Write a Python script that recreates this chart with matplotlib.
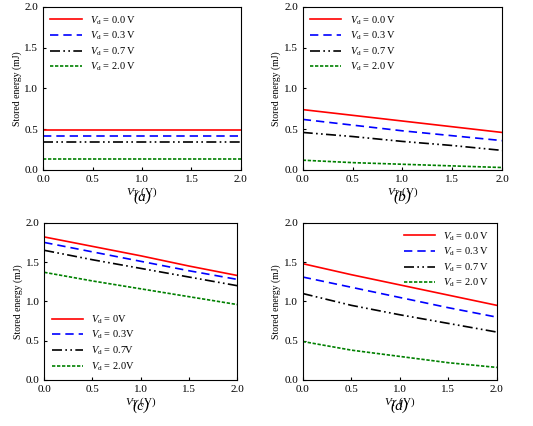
import matplotlib
matplotlib.use("Agg")
import matplotlib.pyplot as plt

plt.rcParams['font.family'] = ['Liberation Serif', 'DejaVu Serif']
plt.rcParams['mathtext.fontset'] = 'custom'
plt.rcParams['mathtext.rm'] = 'Liberation Serif'
plt.rcParams['mathtext.it'] = 'Liberation Serif:italic'

vt = [0.0, 0.5, 1.0, 1.5, 2.0]
a_red = [0.49] * 5; a_blue = [0.42] * 5; a_black = [0.34] * 5; a_green = [0.13] * 5
b_red = [0.74, 0.67, 0.60, 0.53, 0.46]
b_blue = [0.62, 0.55, 0.48, 0.42, 0.36]
b_black = [0.46, 0.41, 0.35, 0.30, 0.24]
b_green = [0.12, 0.09, 0.07, 0.05, 0.03]
c_red = [1.82, 1.70, 1.58, 1.45, 1.33]
c_blue = [1.75, 1.63, 1.51, 1.39, 1.28]
c_black = [1.65, 1.53, 1.42, 1.31, 1.20]
c_green = [1.37, 1.26, 1.16, 1.06, 0.96]
d_red = [1.48, 1.34, 1.21, 1.08, 0.95]
d_blue = [1.31, 1.18, 1.05, 0.92, 0.80]
d_black = [1.10, 0.95, 0.83, 0.72, 0.61]
d_green = [0.49, 0.38, 0.30, 0.22, 0.16]
labels_std = ['0.0 V', '0.3 V', '0.7 V', '2.0 V']
labels_c = ['0V', '0.3V', '0.7V', '2.0V']
captions = ['(a)', '(b)', '(c)', '(d)']

styles = [dict(color='red', ls='-'), dict(color='blue', ls=(0, (5, 3))),
          dict(color='black', ls=(0, (6, 2, 1, 2, 1, 2))), dict(color='green', ls=(0, (2, 1)))]

fig = plt.figure(figsize=(5.33, 4.26), dpi=100)
rects = [[0.081, 0.601, 0.371, 0.383], [0.568, 0.601, 0.374, 0.383],
         [0.083, 0.108, 0.362, 0.369], [0.568, 0.108, 0.364, 0.369]]
data = [[a_red, a_blue, a_black, a_green], [b_red, b_blue, b_black, b_green],
        [c_red, c_blue, c_black, c_green], [d_red, d_blue, d_black, d_green]]
legpos = ['upper left', 'upper left', 'lower left', 'upper right']
for i, (r, series) in enumerate(zip(rects, data)):
    ax = fig.add_axes(r)
    labs = labels_c if i == 2 else labels_std
    for s, st, lb in zip(series, styles, labs):
        ax.plot(vt, s, lw=1.2, label=r'$V_\mathrm{d}$ = ' + lb, **st)
    ax.set_xlim(0, 2); ax.set_ylim(0, 2)
    ax.set_xticks([0, 0.5, 1, 1.5, 2]); ax.set_yticks([0, 0.5, 1, 1.5, 2])
    ax.set_xticklabels(['0.0', '0.5', '1.0', '1.5', '2.0'])
    ax.set_yticklabels(['0.0', '0.5', '1.0', '1.5', '2.0'])
    ax.tick_params(labelsize=8, length=2.5, direction='in')
    ax.set_xlabel(r'$V_\mathrm{T}$ (V)', fontsize=8, labelpad=1)
    ax.set_ylabel('Stored energy (mJ)', fontsize=7, labelpad=2)
    ax.legend(loc=legpos[i], fontsize=7.5, frameon=False, handlelength=3,
              labelspacing=0.3, borderaxespad=0.3)
    ax.text(0.5, -0.165, captions[i], transform=ax.transAxes, ha='center',
            va='center', fontsize=11, style='italic')

fig.savefig('out.png', dpi=100)
